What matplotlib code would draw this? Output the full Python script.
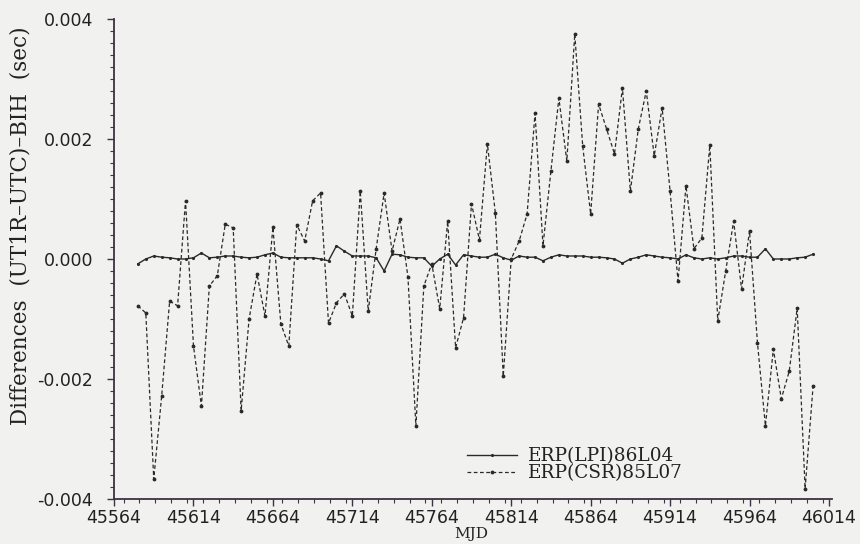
import numpy as np
import matplotlib
matplotlib.use("Agg")
import matplotlib.pyplot as plt
from matplotlib.ticker import MultipleLocator

# MJD of the samples (5-day spacing)
mjd = [45579 + 5 * k for k in range(86)]

# ERP(LPI)86L04 differences (sec)
lpi = [-0.00008, 0.00000, 0.00005, 0.00003, 0.00002, 0.00000, 0.00000, 0.00002,
       0.00010, 0.00002, 0.00003, 0.00005, 0.00005, 0.00003, 0.00002, 0.00003,
       0.00007, 0.00010, 0.00003, 0.00002, 0.00002, 0.00002, 0.00002, 0.00000,
       -0.00003, 0.00022, 0.00013, 0.00005, 0.00005, 0.00005, 0.00002, -0.00020,
       0.00008, 0.00007, 0.00003, 0.00002, 0.00002, -0.00012, 0.00000, 0.00008,
       -0.00010, 0.00007, 0.00005, 0.00003, 0.00003, 0.00008, 0.00002, -0.00002,
       0.00005, 0.00003, 0.00003, -0.00003, 0.00003, 0.00007, 0.00005, 0.00005,
       0.00005, 0.00003, 0.00003, 0.00002, 0.00000, -0.00007, 0.00000, 0.00003,
       0.00007, 0.00005, 0.00003, 0.00002, 0.00000, 0.00007, 0.00002, 0.00000,
       0.00002, 0.00000, 0.00002, 0.00005, 0.00005, 0.00003, 0.00003, 0.00017,
       0.00000, 0.00000, 0.00000, 0.00002, 0.00003, 0.00008]

# ERP(CSR)85L07 differences (sec)
csr = [-0.00078, -0.00090, -0.00367, -0.00228, -0.00070, -0.00078, 0.00097, -0.00145,
       -0.00245, -0.00045, -0.00028, 0.00058, 0.00052, -0.00253, -0.00100, -0.00025,
       -0.00095, 0.00053, -0.00108, -0.00145, 0.00057, 0.00030, 0.00097, 0.00110,
       -0.00107, -0.00073, -0.00058, -0.00095, 0.00113, -0.00087, 0.00017, 0.00110,
       0.00013, 0.00067, -0.00030, -0.00278, -0.00045, -0.00008, -0.00083, 0.00063,
       -0.00148, -0.00098, 0.00092, 0.00032, 0.00192, 0.00077, -0.00195, 0.00000,
       0.00030, 0.00075, 0.00243, 0.00022, 0.00147, 0.00268, 0.00163, 0.00375,
       0.00188, 0.00075, 0.00258, 0.00217, 0.00175, 0.00285, 0.00113, 0.00217,
       0.00280, 0.00172, 0.00252, 0.00113, -0.00037, 0.00122, 0.00017, 0.00035,
       0.00190, -0.00103, -0.00020, 0.00063, -0.00050, 0.00047, -0.00140, -0.00278,
       -0.00150, -0.00233, -0.00187, -0.00082, -0.00383, -0.00212]

xticks = [45564, 45614, 45664, 45714, 45764, 45814, 45864, 45914, 45964, 46014]
yticks = [-0.004, -0.002, 0.000, 0.002, 0.004]

paper = '#f1f1ef'
ink = '#2a2a2a'
axc = '#3b3242'

fig = plt.figure(figsize=(8.6, 5.44), dpi=100, facecolor=paper)
ax = fig.add_axes([0.1326, 0.0827, 0.835, 0.8824], facecolor=paper)

ax.plot(mjd, lpi, '-', color=ink, lw=1.0, marker='.', ms=2.5,
        label='ERP(LPI)86L04')
ax.plot(mjd, csr, linestyle=(0, (3, 2)), color=ink, lw=0.9, marker='.', ms=3.5,
        label='ERP(CSR)85L07')

ax.set_xlim(45564, 46016)
ax.set_ylim(-0.004, 0.004)
ax.set_xticks(xticks)
ax.set_xticklabels([str(t) for t in xticks])
ax.set_yticks(yticks)
ax.set_yticklabels(['%.3f' % t for t in yticks])
ax.xaxis.set_minor_locator(MultipleLocator(10))
ax.yaxis.set_minor_locator(MultipleLocator(0.0002))

for s in ['top', 'right']:
    ax.spines[s].set_visible(False)
for s in ['left', 'bottom']:
    ax.spines[s].set_color(axc)
    ax.spines[s].set_linewidth(1.3)

ax.tick_params(axis='both', which='major', direction='out', length=5, width=1,
               colors=axc, labelsize=12.5, labelcolor='#222222')
ax.tick_params(axis='both', which='minor', direction='out', length=3, width=0.8,
               colors=axc)
ax.tick_params(axis='y', which='major', pad=10)
ax.tick_params(axis='x', which='major', pad=2)

ax.set_ylabel('Differences  (UT1R\u2013UTC)\u2013BIH  (sec)', family='DejaVu Serif',
              fontsize=15.5, color='#222222')
ax.yaxis.set_label_coords(-0.115, 0.569)
ax.set_xlabel('MJD', family='DejaVu Serif', fontsize=11, color='#222222')
ax.xaxis.set_label_coords(0.497, -0.058)

leg = ax.legend(loc='lower left', bbox_to_anchor=(0.4916, 0.035), frameon=False,
                prop={'family': 'DejaVu Serif', 'size': 13.3},
                handlelength=2.7, handletextpad=0.6, labelspacing=-0.05,
                borderaxespad=0.0, borderpad=0.0)
for t in leg.get_texts():
    t.set_color('#222222')

fig.savefig('out.png', dpi=100, facecolor=paper)
